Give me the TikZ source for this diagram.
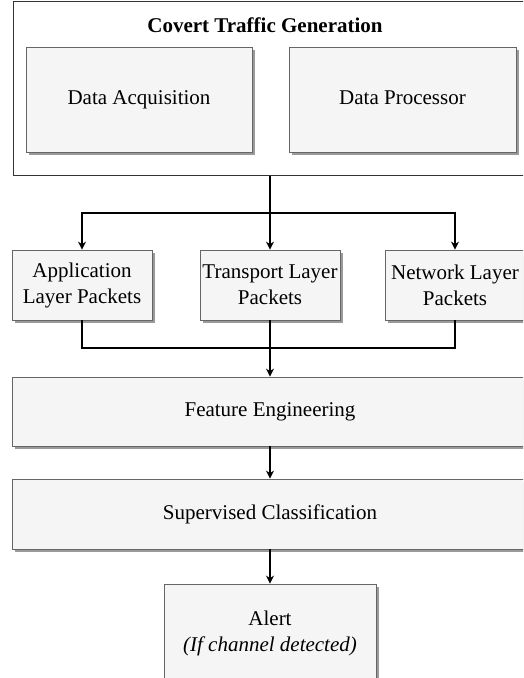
\documentclass[tikz,border=0pt]{standalone}
\usepackage{fontspec}
\setmainfont{Liberation Serif}
\usetikzlibrary{arrows.meta,shadows,positioning}
\definecolor{boxfill}{HTML}{F5F5F5}
\definecolor{boxline}{HTML}{666666}
\definecolor{shadowc}{HTML}{9A9A9A}
\begin{document}
\begin{tikzpicture}[x=1pt,y=-1pt,
  every node/.style={font=\fontsize{21}{26}\selectfont, text=black},
  blk/.style={rectangle, draw=boxline, fill=boxfill, line width=0.9pt, inner sep=0pt, align=center,
    drop shadow={shadow xshift=2.6pt, shadow yshift=-2.6pt, fill=shadowc, opacity=1}},
  one/.style={text height=14.5pt, text depth=4.5pt},
  outerbox/.style={rectangle, draw=black!80, fill=white, line width=1pt, inner sep=0pt},
  conn/.style={draw=black, line width=1.2pt},
  arr/.style={conn, -{Stealth[length=8pt,width=8pt]}}
]
\useasboundingbox (0,0) rectangle (523,678);
\clip (0,0) rectangle (523,678);
\fill[white] (0,0) rectangle (523,678);

% outer container
\node[outerbox, minimum width=514pt, minimum height=174pt] (outer) at (270,88) {};
\node[font=\fontsize{21}{26}\selectfont\bfseries, one] (title) at (265,27) {Covert Traffic Generation};
\node[blk, one, minimum width=226pt, minimum height=105pt] (acq) at (139,99.5) {Data Acquisition};
\node[blk, one, minimum width=227pt, minimum height=105pt] (proc) at (402.5,99.5) {Data Processor};

% packet boxes
\node[blk, minimum width=140pt, minimum height=70pt] (app) at (82,285) {Application\\Layer Packets};
\node[blk, minimum width=140pt, minimum height=70pt] (trans) at (270,285) {Transport Layer\\Packets};
\node[blk, minimum width=140pt, minimum height=70pt] (net) at (455,285) {Network Layer\\Packets};

% pipeline
\node[blk, one, minimum width=516pt, minimum height=69pt] (feat) at (270,411.5) {Feature Engineering};
\node[blk, one, minimum width=516pt, minimum height=70pt] (sup) at (270,514) {Supervised Classification};
\node[blk, minimum width=212pt, minimum height=98pt] (alert) at (270,633) {Alert\\\textit{(If channel detected)}};

\coordinate (split) at (270,213);
\coordinate (merge) at (270,348);

% connectors
\draw[arr] (outer.south) -- (split) -| (app.north);
\draw[arr] (outer.south) -- (trans.north);
\draw[arr] (outer.south) -- (split) -| (net.north);
\draw[conn] (app.south) |- (merge);
\draw[conn] (net.south) |- (merge);
\draw[arr] (trans.south) -- (feat.north);
\draw[arr] (feat.south) -- (sup.north);
\draw[arr] (sup.south) -- (alert.north);
\end{tikzpicture}
\end{document}
